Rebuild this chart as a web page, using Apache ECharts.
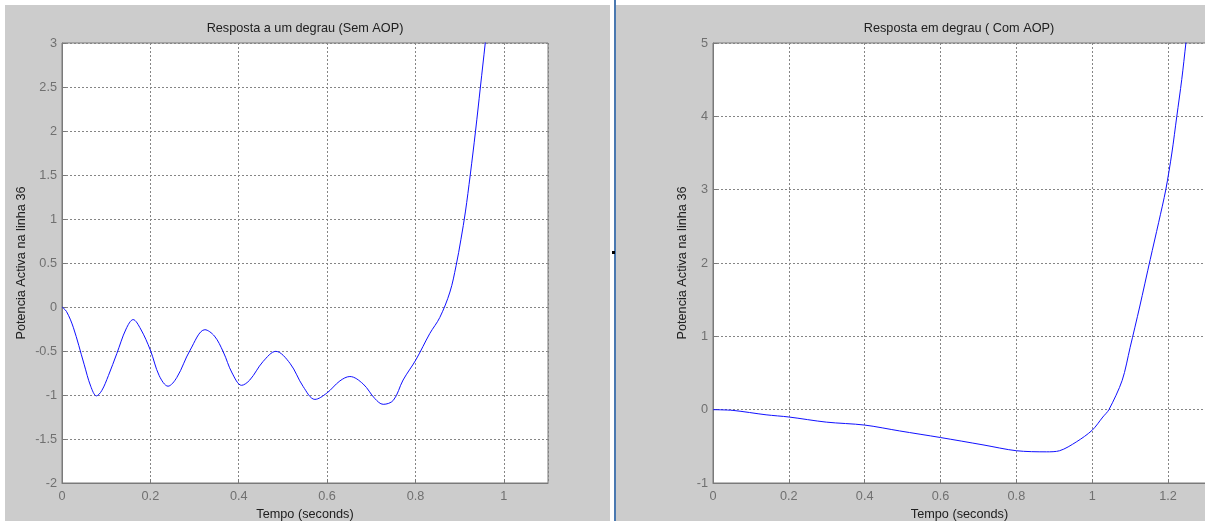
<!DOCTYPE html>
<html>
<head>
<meta charset="utf-8">
<script src="https://cdn.jsdelivr.net/npm/echarts@6.0.0/dist/echarts.min.js"></script>
<style>
  html, body { margin: 0; padding: 0; background: #ffffff; }
  #chart { width: 1205px; height: 521px; }
</style>
</head>
<body>
<div id="chart"></div>
<script>
// Step response without AOP (left figure)
const semAopTime = [0, 0.01, 0.0255, 0.05, 0.065, 0.078, 0.09, 0.105, 0.124, 0.145, 0.161, 0.178, 0.2, 0.22, 0.24,
  0.26, 0.29, 0.3235, 0.345, 0.365, 0.385, 0.4065, 0.425, 0.455, 0.484, 0.516, 0.546, 0.5725, 0.599, 0.629,
  0.6516, 0.6817, 0.708, 0.727, 0.75, 0.772, 0.801, 0.8326, 0.855, 0.878, 0.892, 0.903, 0.913, 0.924, 0.936,
  0.947, 0.958, 0.97];
const semAopPower = [0, -0.05, -0.23, -0.65, -0.9, -1.01, -0.95, -0.78, -0.53, -0.25, -0.143, -0.25, -0.49, -0.78, -0.9,
  -0.8, -0.49, -0.258, -0.33, -0.51, -0.75, -0.89, -0.83, -0.62, -0.504, -0.64, -0.905, -1.05, -0.98, -0.84,
  -0.79, -0.875, -1.04, -1.106, -1.06, -0.83, -0.6, -0.3, -0.12, 0.17, 0.47, 0.77, 1.08, 1.5, 2.0,
  2.5, 3.0, 3.56];

// Step response with AOP (right figure)
const comAopTime = [0, 0.0527, 0.14, 0.2, 0.299, 0.4, 0.492, 0.6, 0.712, 0.8, 0.879, 0.914, 0.958, 1.0, 1.028,
  1.044, 1.079, 1.1, 1.125, 1.153, 1.175, 1.194, 1.21, 1.223, 1.236, 1.247, 1.26];
const comAopPower = [0, -0.01, -0.07, -0.1, -0.17, -0.21, -0.29, -0.38, -0.48, -0.56, -0.575, -0.56, -0.44, -0.28, -0.1,
  0, 0.4, 0.85, 1.4, 2.05, 2.55, 3.0, 3.5, 4.0, 4.5, 5.0, 5.6];

// Axis limits and tick steps
const leftX = { min: 0, max: 1.1, step: 0.2 };
const leftY = { min: -2, max: 3, step: 0.5 };
const rightX = { min: 0, max: 1.3, step: 0.2 };
const rightY = { min: -1, max: 5, step: 1 };

const titles = ['Resposta a um degrau (Sem AOP)', 'Resposta em degrau ( Com AOP)'];
const xName = 'Tempo (seconds)';
const yName = 'Potencia Activa na linha 36';

const FONT = '"Liberation Sans", Arial, sans-serif';
const FS = 12.7;
const PANEL = '#cccccc';
const BOX = '#7a7a7a';
const TICK_TEXT = '#707070';
const TEXT = '#202020';

function pairs(xs, ys) { return xs.map((x, i) => [x, ys[i]]); }

function xAxisFor(idx, r) {
  return {
    type: 'value', gridIndex: idx, min: r.min, max: r.max, interval: r.step,
    name: xName, nameLocation: 'middle', nameGap: 24,
    nameTextStyle: { color: TEXT, fontSize: FS, fontFamily: FONT },
    axisLine: { show: true, onZero: false, lineStyle: { color: BOX, width: 1 } },
    axisTick: { show: true, inside: true, length: 4, lineStyle: { color: BOX } },
    axisLabel: { color: TICK_TEXT, fontSize: FS, fontFamily: FONT, margin: 7, showMaxLabel: false },
    splitLine: { show: true, lineStyle: { color: '#858585', type: [2, 2], width: 1 } }
  };
}
function yAxisFor(idx, r, gap) {
  return {
    type: 'value', gridIndex: idx, min: r.min, max: r.max, interval: r.step,
    name: yName, nameLocation: 'middle', nameGap: gap,
    nameTextStyle: { color: TEXT, fontSize: FS, fontFamily: FONT },
    axisLine: { show: true, onZero: false, lineStyle: { color: BOX, width: 1 } },
    axisTick: { show: true, inside: true, length: 4, lineStyle: { color: BOX } },
    axisLabel: { color: TICK_TEXT, fontSize: FS, fontFamily: FONT, margin: 5 },
    splitLine: { show: true, lineStyle: { color: '#858585', type: [2, 2], width: 1 } }
  };
}

const chart = echarts.init(document.getElementById('chart'), null, { renderer: 'canvas' });

chart.setOption({
  animation: false,
  backgroundColor: '#ffffff',
  graphic: [
    { type: 'rect', z: -10, shape: { x: 5, y: 5, width: 605, height: 516 }, style: { fill: PANEL } },
    { type: 'rect', z: -10, shape: { x: 616, y: 5, width: 589, height: 516 }, style: { fill: PANEL } },
    { type: 'rect', z: -10, shape: { x: 614, y: 0, width: 2, height: 521 }, style: { fill: '#4a78b0' } },
    { type: 'rect', z: -10, shape: { x: 612, y: 251, width: 3, height: 3 }, style: { fill: '#000000' } },
    { type: 'text', x: 305, y: 28, style: { text: titles[0], textAlign: 'center', textVerticalAlign: 'middle', fill: TEXT, fontSize: FS, fontFamily: FONT } },
    { type: 'text', x: 959, y: 28, style: { text: titles[1], textAlign: 'center', textVerticalAlign: 'middle', fill: TEXT, fontSize: FS, fontFamily: FONT } }
  ],
  grid: [
    { left: 62, top: 43, width: 486, height: 440, show: true, backgroundColor: '#ffffff', borderColor: BOX, borderWidth: 1, outerBoundsMode: 'none', containLabel: false },
    { left: 713, top: 43, width: 493, height: 440, show: true, backgroundColor: '#ffffff', borderColor: BOX, borderWidth: 1, outerBoundsMode: 'none', containLabel: false }
  ],
  xAxis: [xAxisFor(0, leftX), xAxisFor(1, rightX)],
  yAxis: [yAxisFor(0, leftY, 34), yAxisFor(1, rightY, 24)],
  series: [
    {
      type: 'line', xAxisIndex: 0, yAxisIndex: 0, data: pairs(semAopTime, semAopPower),
      smooth: 0.35, showSymbol: false, clip: true,
      lineStyle: { color: '#1010ff', width: 1 }
    },
    {
      type: 'line', xAxisIndex: 1, yAxisIndex: 1, data: pairs(comAopTime, comAopPower),
      smooth: 0.3, showSymbol: false, clip: true,
      lineStyle: { color: '#1010ff', width: 1 }
    }
  ]
});
</script>
</body>
</html>
